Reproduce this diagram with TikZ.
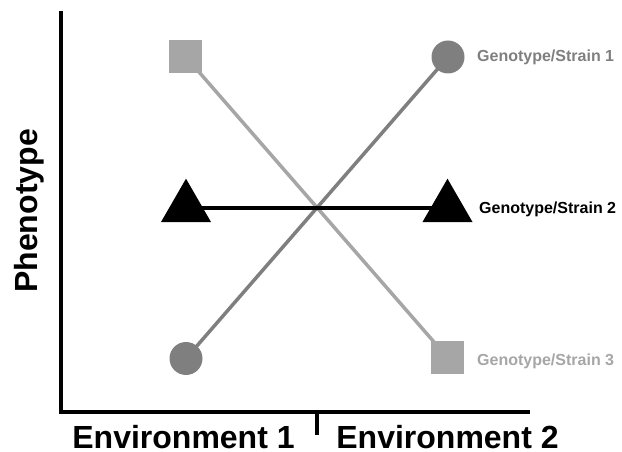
\documentclass[tikz,border=0pt]{standalone}
\usepackage{fontspec}
\setmainfont{Liberation Sans}
\usetikzlibrary{shapes.geometric,backgrounds}
\definecolor{lightg}{HTML}{A6A6A6}
\definecolor{midg}{HTML}{7F7F7F}
\begin{document}
\begin{tikzpicture}[x=1pt,y=-1pt,
  sqmark/.style={rectangle,fill=lightg,minimum size=33pt,inner sep=0pt},
  cmark/.style={circle,fill=midg,minimum size=33pt,inner sep=0pt},
  tmark/.style={regular polygon,regular polygon sides=3,fill=black,minimum size=58pt,inner sep=0pt},
  conn/.style={line width=3.5pt},
  axis/.style={line width=4pt},
  lab/.style={font=\fontsize{16}{18}\selectfont\bfseries,anchor=base west,inner sep=0pt},
  big/.style={font=\fontsize{32}{36}\selectfont\bfseries,inner sep=0pt,anchor=base}
]
\useasboundingbox (0,0) rectangle (622,452);
% axes
\coordinate (ytop) at (61.3,12.7);
\coordinate (orig) at (61.3,411.7);
\coordinate (xend) at (528,411.7);
\coordinate (tickt) at (317,411.7);
\coordinate (tickb) at (317,435);
\draw[axis,line cap=rect] (ytop) -- (orig) -- (xend);
\draw[line width=3.5pt] (tickt) -- (tickb);
% markers
\node[sqmark] (s1) at (185.5,56.5) {};
\node[sqmark] (s3) at (447.5,357.5) {};
\node[cmark] (c1) at (448,57) {};
\node[cmark] (c2) at (186,358.5) {};
\node[tmark] (t1) at (186,207.7) {};
\node[tmark] (t2) at (447.5,207.7) {};
\begin{scope}[on background layer]
\draw[conn,lightg] (s1.center) -- (s3.center);
\draw[conn,midg] (c2.center) -- (c1.center);
\draw[line width=4pt,black] (t1.center) -- (t2.center);
\end{scope}
% labels
\node[lab,text=midg] (l1) at (477,62) {Genotype/Strain 1};
\node[lab,text=black] (l2) at (479,213) {Genotype/Strain 2};
\node[lab,text=lightg] (l3) at (477,365) {Genotype/Strain 3};
\node[big] (e1) at (183.5,448) {Environment 1};
\node[big] (e2) at (447.5,448) {Environment 2};
\node[big,rotate=90] (ph) at (37,211) {Phenotype};
\end{tikzpicture}
\end{document}
